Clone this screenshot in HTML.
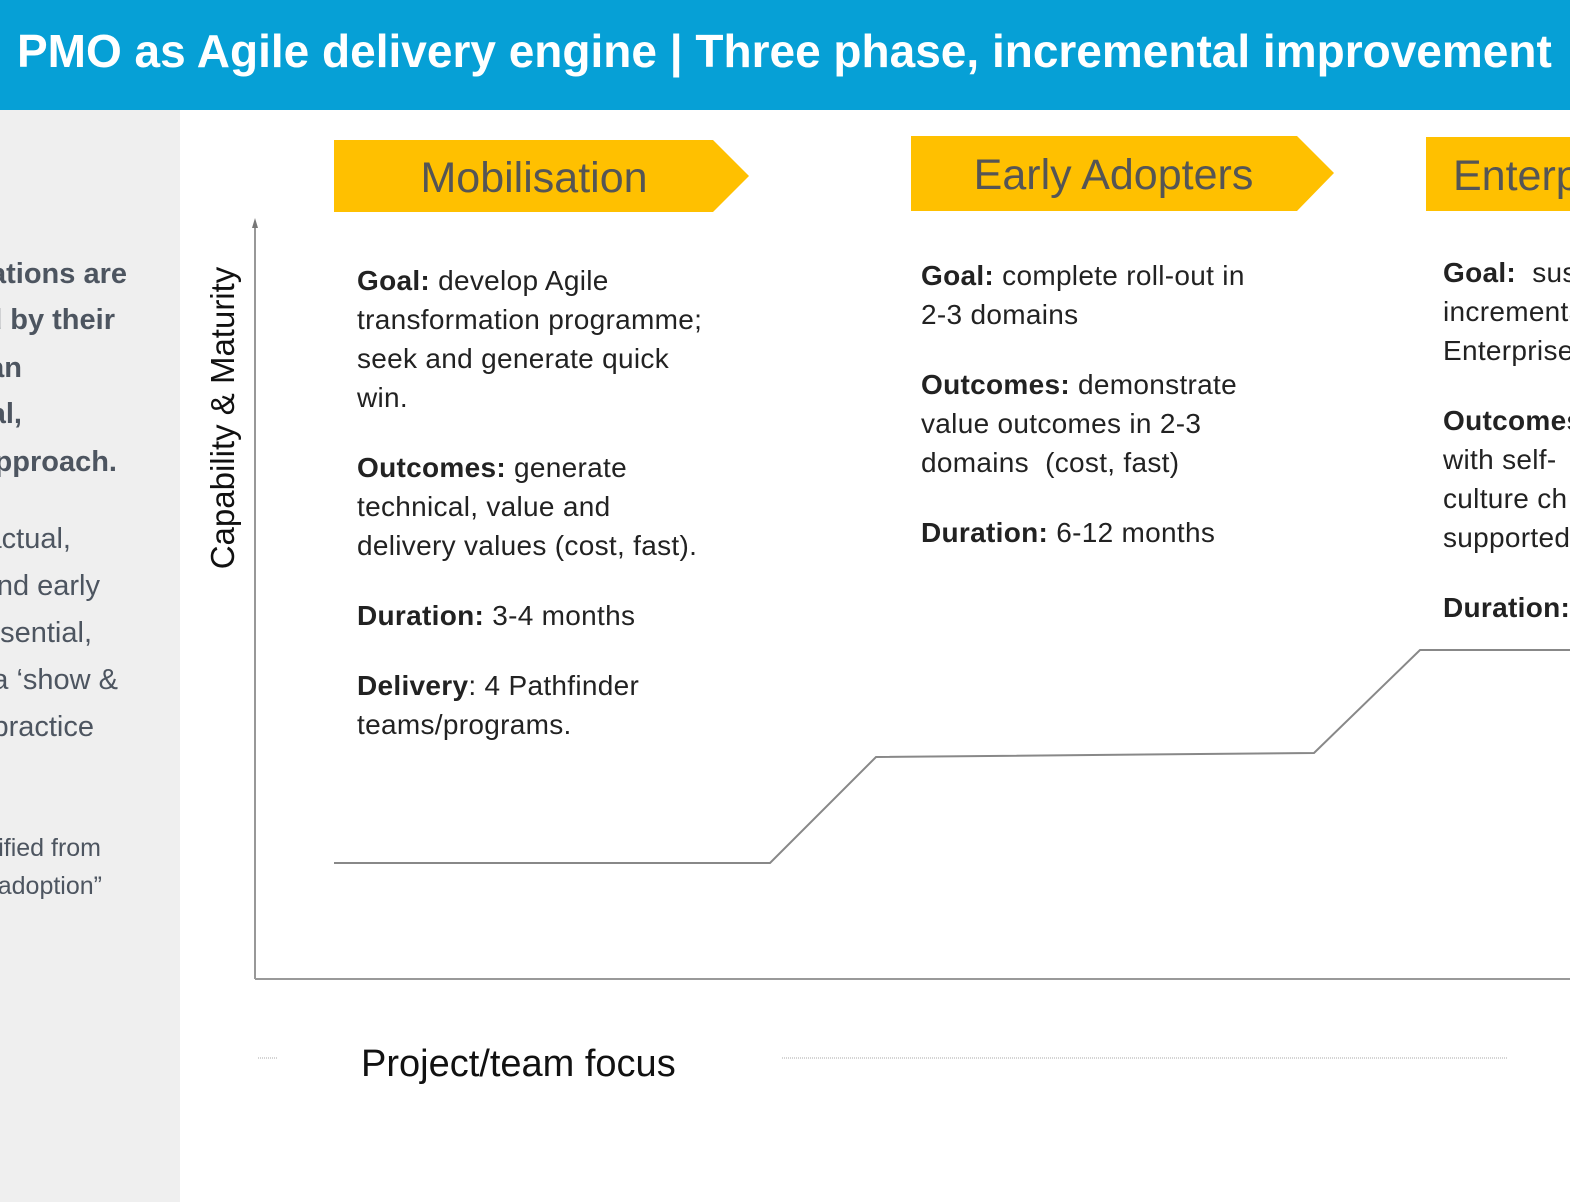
<!DOCTYPE html>
<html><head><meta charset="utf-8"><style>
html,body{margin:0;width:1570px;height:1202px;overflow:hidden}
body{background:#fff;font-family:"Liberation Sans",sans-serif;position:relative}
.wrap{position:absolute;left:0;top:0;width:1570px;height:1202px;overflow:hidden}
.hdr{position:absolute;left:0;top:0;width:1570px;height:110px;background:#06A0D6;color:#fff;font-weight:bold;font-size:46px;line-height:102px;white-space:nowrap;padding-left:17px;box-sizing:border-box;overflow:hidden}
.side{position:absolute;left:0;top:110px;width:180px;height:1092px;background:#efefef;overflow:hidden}
.sl{position:absolute;white-space:nowrap;color:#4d5560;font-size:29px;text-align:right;width:600px}
.b{font-weight:bold}
.t{position:absolute;font-size:28px;line-height:39px;color:#222;white-space:nowrap;letter-spacing:0.3px}
.t p{margin:0 0 31px 0}
.ph{position:absolute;color:#555;font-size:43px;white-space:nowrap;text-align:center}
.clip{position:absolute;left:1420px;top:0;width:150px;height:1202px;overflow:hidden}
</style></head><body><div class="wrap">
<div class="hdr">PMO as Agile delivery engine | Three phase, incremental improvement</div>
<div class="side">
<div class="sl b" style="right:53px;top:148px">ganisations are</div>
<div class="sl b" style="right:65px;top:194px">ated by their</div>
<div class="sl b" style="right:158px;top:242px">an</div>
<div class="sl b" style="right:158px;top:288px">al,</div>
<div class="sl b" style="right:63px;top:336px">approach.</div>
<div class="sl" style="right:109px;top:413px">actual,</div>
<div class="sl" style="right:80px;top:460px">and early</div>
<div class="sl" style="right:88px;top:507px">essential,</div>
<div class="sl" style="right:62px;top:554px">a ‘show &amp;</div>
<div class="sl" style="right:86px;top:601px">practice</div>
<div class="sl" style="right:79px;top:724px;font-size:25px">ified from</div>
<div class="sl" style="right:78px;top:762px;font-size:25px">adoption”</div>
</div>
<svg style="position:absolute;left:0;top:0" width="1570" height="1202">
<polygon points="334,140 713,140 749,176 713,212 334,212" fill="#FFC000"/>
<polygon points="911,136 1297,136 1334,173 1297,211 911,211" fill="#FFC000"/>
<polygon points="1426,137 1570,137 1570,211 1426,211" fill="#FFC000"/>
<line x1="255" y1="224" x2="255" y2="979" stroke="#777" stroke-width="1.5"/>
<polygon points="255,218 252,228 258,228" fill="#777"/>
<line x1="255" y1="979" x2="1570" y2="979" stroke="#999" stroke-width="2"/>
<polyline points="334,863 770,863 876,757 1314,753 1420,650 1570,650" fill="none" stroke="#888" stroke-width="2"/>
<line x1="258" y1="1058" x2="278" y2="1058" stroke="#aaa" stroke-dasharray="1,1"/>
<line x1="782" y1="1058" x2="1508" y2="1058" stroke="#aaa" stroke-dasharray="1,1"/>
<text x="0" y="0" transform="translate(234,418) rotate(-90)" text-anchor="middle" font-size="33" fill="#111" font-family="Liberation Sans, sans-serif">Capability &amp; Maturity</text>
<text x="361" y="1076" font-size="38" fill="#111" font-family="Liberation Sans, sans-serif">Project/team focus</text>
</svg>
<div class="ph" style="left:334px;top:154px;width:400px">Mobilisation</div>
<div class="ph" style="left:911px;top:151px;width:405px">Early Adopters</div>
<div class="t" style="left:357px;top:261px">
<p><b>Goal:</b> develop Agile<br>transformation programme;<br>seek and generate quick<br>win.</p>
<p><b>Outcomes:</b> generate<br>technical, value and<br>delivery values (cost, fast).</p>
<p><b>Duration:</b> 3-4 months</p>
<p><b>Delivery</b>: 4 Pathfinder<br>teams/programs.</p>
</div>
<div class="t" style="left:921px;top:256px">
<p><b>Goal:</b> complete roll-out in<br>2-3 domains</p>
<p><b>Outcomes:</b> demonstrate<br>value outcomes in 2-3<br>domains&nbsp; (cost, fast)</p>
<p><b>Duration:</b> 6-12 months</p>
</div>
<div class="clip">
<div class="ph" style="left:33px;top:152px;text-align:left">Enterprise</div>
<div class="t" style="left:23px;top:253px">
<p><b>Goal:</b>&nbsp; sustain<br>incremental<br>Enterprise</p>
<p><b>Outcomes:</b><br>with self-<br>culture ch<br>supported</p>
<p><b>Duration:</b></p>
</div>
</div>
</div></body></html>
